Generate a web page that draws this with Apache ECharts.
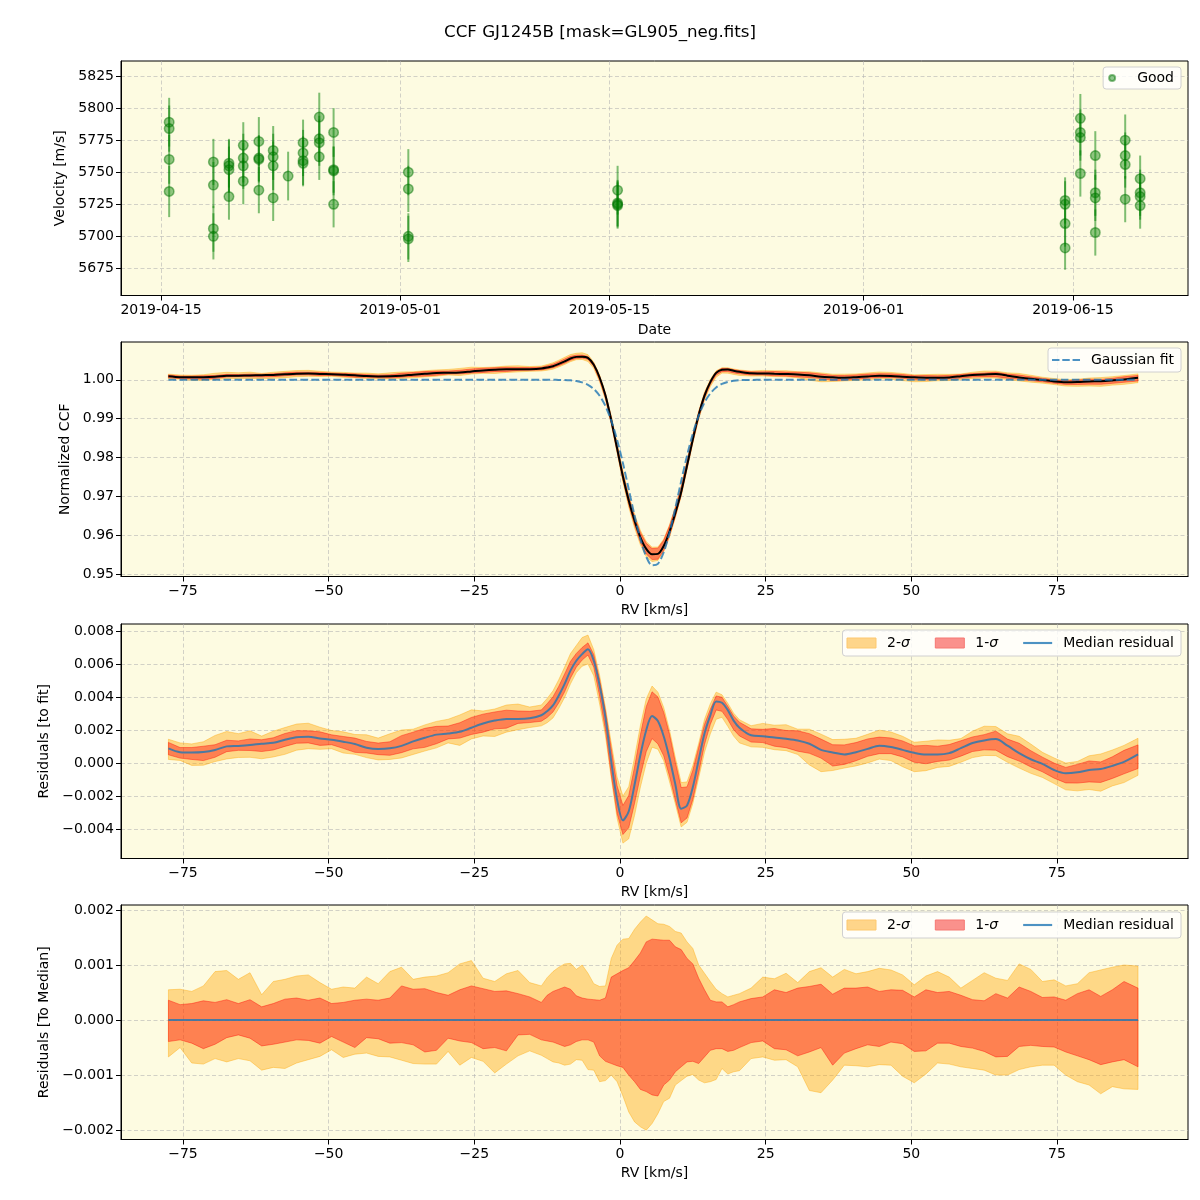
<!DOCTYPE html>
<html><head><meta charset="utf-8">
<script src="https://cdn.jsdelivr.net/npm/echarts@6/dist/echarts.min.js"></script>
<style>html,body{margin:0;padding:0;background:#fff}#c{width:1200px;height:1200px}</style>
</head><body><div id="c"></div>
<script>
// ---------- Panel 1: velocity time series ----------
const obsTimes = [
  '2019-04-15 13:00','2019-04-15 13:00','2019-04-15 13:00','2019-04-15 13:00',
  '2019-04-18 12:00','2019-04-18 12:00','2019-04-18 12:00','2019-04-18 12:00',
  '2019-04-19 13:00','2019-04-19 13:00','2019-04-19 13:00','2019-04-19 13:00',
  '2019-04-20 12:00','2019-04-20 12:00','2019-04-20 12:00','2019-04-20 12:00',
  '2019-04-21 13:00','2019-04-21 13:00','2019-04-21 13:00','2019-04-21 13:00',
  '2019-04-22 12:00','2019-04-22 12:00','2019-04-22 12:00','2019-04-22 12:00',
  '2019-04-23 12:00',
  '2019-04-24 12:00','2019-04-24 12:00','2019-04-24 12:00','2019-04-24 12:00',
  '2019-04-25 14:00','2019-04-25 14:00','2019-04-25 14:00','2019-04-25 14:00',
  '2019-04-26 13:00','2019-04-26 13:00','2019-04-26 13:00','2019-04-26 13:00',
  '2019-05-01 13:00','2019-05-01 13:00','2019-05-01 13:00','2019-05-01 13:00',
  '2019-05-15 13:00','2019-05-15 13:00','2019-05-15 13:00','2019-05-15 13:00',
  '2019-06-14 11:30','2019-06-14 11:30','2019-06-14 11:30','2019-06-14 11:30',
  '2019-06-15 12:00','2019-06-15 12:00','2019-06-15 12:00','2019-06-15 12:00',
  '2019-06-16 12:00','2019-06-16 12:00','2019-06-16 12:00','2019-06-16 12:00',
  '2019-06-18 12:00','2019-06-18 12:00','2019-06-18 12:00','2019-06-18 12:00',
  '2019-06-19 12:00','2019-06-19 12:00','2019-06-19 12:00','2019-06-19 12:00'
];
const obsVel = [
  5789,5784,5760,5735,
  5758,5740,5706,5700,
  5757,5755,5752,5731,
  5771,5761,5755,5743,
  5774,5761,5760,5736,
  5767,5762,5755,5730,
  5747,
  5773,5765,5759,5757,
  5793,5776,5773,5762,
  5781,5752,5751,5725,
  5750,5737,5700,5698,
  5736,5726,5725,5724,
  5728,5725,5710,5691,
  5792,5781,5777,5749,
  5763,5734,5730,5703,
  5775,5763,5756,5729,
  5745,5734,5731,5724
];
const obsErr = [
  19,18,19,20,
  18,18,18,18,
  19,20,18,18,
  18,19,18,18,
  19,18,18,18,
  19,18,19,18,
  19,
  18,18,19,18,
  19,18,18,18,
  19,18,19,18,
  18,18,18,18,
  19,18,18,18,
  18,18,18,17,
  19,18,18,18,
  19,18,18,18,
  20,18,18,18,
  18,18,18,18
];
const dateTicks = ['2019-04-15','2019-05-01','2019-05-15','2019-06-01','2019-06-15'];
const dateRange = ['2019-04-12 07:40','2019-06-22 16:50'];
const velTicks = [5675,5700,5725,5750,5775,5800,5825];

// ---------- Panels 2-4: CCF profiles ----------
const rv = [
  -77.5,-75.5,-73.5,-71.5,-69.5,-67.5,-65.5,-63.5,-61.5,-59.5,-57.5,-55.5,-53.5,-51.5,-49.5,-47.5,
  -45.5,-43.5,-41.5,-39.5,-37.5,-35.5,-33.5,-31.5,-29.5,-27.5,-25.5,-23.5,-21.5,-19.5,-17.5,-15.5,
  -13.5,-12.5,-11.5,-10.5,-9.5,-8.5,-7.5,-6.5,-5.5,-4.5,-3.5,-2.5,-1.5,-0.5,0.5,1.5,2.5,3.5,4.5,
  5.5,6.5,7.5,8.5,9.5,10.5,11.5,12.5,13.5,14.5,15.5,16.5,17.5,18.5,19.5,20.5,
  22.5,24.5,26.5,28.5,30.5,32.5,34.5,36.5,38.5,40.5,42.5,44.5,46.5,48.5,50.5,52.5,
  54.5,56.5,58.5,60.5,62.5,64.5,66.5,68.5,70.5,72.5,74.5,76.5,78.5,80.5,82.5,84.5,86.5,88.9
];
const gaussFit = [
  1.0,1.0,1.0,1.0,1.0,1.0,1.0,1.0,1.0,1.0,1.0,1.0,1.0,1.0,1.0,1.0,
  1.0,1.0,1.0,1.0,1.0,1.0,1.0,1.0,1.0,1.0,1.0,1.0,1.0,1.0,1.0,1.0,
  1.0,1.0,0.99999,0.99997,0.99994,0.99985,0.99968,0.99934,0.99871,0.99764,0.99589,0.99325,0.98951,0.98459,0.97860,0.97190,0.96512,0.95906,0.95459,
  0.95236,0.95276,0.95572,0.96075,0.96711,0.97395,0.98050,0.98619,0.99075,0.99415,0.99650,0.99802,0.99894,0.99946,0.99974,0.99989,
  0.99996,1.0,1.0,1.0,1.0,1.0,1.0,1.0,1.0,1.0,1.0,1.0,1.0,1.0,1.0,1.0,
  1.0,1.0,1.0,1.0,1.0,1.0,1.0,1.0,1.0,1.0,1.0,1.0,1.0,1.0,1.0,1.0,1.0,1.0
];
// residual of median CCF to the fit, units of 1e-3
const residMedian = [
  0.90,0.67,0.65,0.68,0.80,1.02,1.05,1.10,1.18,1.24,1.42,1.57,1.60,1.50,1.42,1.30,
  1.16,0.94,0.86,0.90,1.05,1.32,1.54,1.73,1.80,1.90,2.15,2.40,2.58,2.68,2.68,2.72,
  2.90,3.15,3.50,4.10,4.80,5.60,6.20,6.60,6.90,6.20,4.70,2.76,0.10,-2.20,-3.45,-2.90,-1.30,0.50,2.00,
  2.85,2.55,1.63,0.30,-1.28,-2.75,-2.55,-1.44,0.20,1.80,2.90,3.74,3.66,3.21,2.58,2.15,
  1.69,1.63,1.55,1.48,1.38,1.18,0.81,0.65,0.53,0.67,0.87,1.06,0.98,0.81,0.63,0.53,
  0.53,0.61,0.91,1.22,1.38,1.46,1.06,0.61,0.24,-0.04,-0.41,-0.61,-0.55,-0.41,-0.35,-0.16,0.08,0.53
];
// band offsets relative to the median, units of 1e-3
const up2 = [
  0.55,0.56,0.52,0.62,0.88,0.90,0.74,0.86,0.46,0.70,0.74,0.80,0.82,0.68,0.56,0.60,
  0.58,0.78,0.66,0.88,0.96,0.74,0.78,0.80,0.86,1.02,1.08,0.76,0.70,0.84,0.90,0.68,
  0.62,0.77,0.88,0.96,1.02,1.03,0.92,1.00,0.85,0.66,0.61,0.62,1.12,1.36,1.47,1.48,1.65,1.78,1.89,
  1.82,1.75,1.74,1.70,1.61,1.58,1.42,1.30,1.00,0.85,0.70,0.56,0.48,0.42,0.45,0.48,
  0.58,0.78,0.75,0.85,0.68,0.88,0.95,0.78,0.92,0.84,0.88,0.94,0.91,0.82,0.64,0.80,
  0.88,0.78,0.58,0.72,0.86,0.76,0.72,1.02,0.92,0.70,0.73,0.62,0.66,0.86,0.91,0.96,1.00,0.98
];
const up1 = [
  0.36,0.28,0.30,0.35,0.32,0.37,0.30,0.37,0.24,0.30,0.38,0.40,0.36,0.40,0.30,0.32,
  0.36,0.38,0.36,0.40,0.62,0.56,0.57,0.50,0.45,0.55,0.62,0.57,0.52,0.53,0.48,0.42,
  0.32,0.45,0.52,0.56,0.60,0.56,0.44,0.40,0.38,0.37,0.36,0.40,0.78,0.84,0.90,0.95,1.08,1.22,1.42,
  1.47,1.46,1.45,1.45,1.33,1.28,1.12,1.02,0.76,0.55,0.36,0.33,0.33,0.24,0.28,0.33,
  0.39,0.42,0.55,0.50,0.58,0.61,0.65,0.47,0.58,0.58,0.60,0.52,0.55,0.54,0.42,0.55,
  0.50,0.52,0.45,0.37,0.35,0.48,0.40,0.60,0.52,0.41,0.42,0.36,0.48,0.55,0.43,0.55,0.70,0.58
];
const dn1 = [
  -0.39,-0.36,-0.42,-0.52,-0.44,-0.32,-0.27,-0.33,-0.47,-0.44,-0.40,-0.36,-0.37,-0.42,-0.30,-0.40,
  -0.50,-0.32,-0.34,-0.42,-0.41,-0.45,-0.58,-0.55,-0.33,-0.38,-0.41,-0.52,-0.50,-0.56,-0.27,-0.26,
  -0.36,-0.38,-0.40,-0.44,-0.48,-0.45,-0.39,-0.36,-0.36,-0.40,-0.65,-0.75,-0.79,-0.83,-0.86,-1.00,-1.12,-1.26,-1.30,
  -1.36,-1.38,-1.18,-1.09,-0.94,-0.85,-0.76,-0.75,-0.79,-0.67,-0.55,-0.52,-0.52,-0.57,-0.55,-0.50,
  -0.41,-0.38,-0.52,-0.54,-0.65,-0.58,-0.50,-0.82,-0.60,-0.52,-0.45,-0.48,-0.40,-0.43,-0.57,-0.56,
  -0.42,-0.42,-0.48,-0.51,-0.57,-0.67,-0.66,-0.48,-0.46,-0.48,-0.49,-0.58,-0.65,-0.72,-0.81,-0.76,-0.72,-0.85
];
const dn2 = [
  -0.67,-0.50,-0.78,-0.80,-0.70,-0.76,-0.70,-0.74,-0.91,-0.86,-0.88,-0.78,-0.72,-0.66,-0.54,-0.68,
  -0.62,-0.60,-0.66,-0.67,-0.73,-0.79,-0.80,-0.80,-0.57,-0.82,-0.68,-0.75,-0.96,-0.80,-0.65,-0.56,
  -0.64,-0.70,-0.76,-0.78,-0.82,-0.80,-0.72,-0.73,-0.90,-0.91,-1.12,-1.10,-1.00,-1.12,-1.38,-1.67,-1.85,-1.94,-2.00,
  -1.88,-1.70,-1.48,-1.42,-1.18,-1.10,-1.02,-0.99,-1.09,-1.14,-1.12,-1.08,-0.88,-0.98,-0.94,-0.92,
  -0.70,-0.67,-0.73,-0.72,-0.85,-1.28,-1.32,-1.09,-0.82,-0.83,-0.85,-0.81,-0.82,-1.02,-1.14,-0.98,
  -0.78,-0.80,-0.85,-0.88,-0.91,-1.00,-1.00,-0.90,-0.85,-0.82,-0.82,-1.00,-1.12,-1.18,-1.34,-1.21,-1.25,-1.26
];
const rvTicks = [-75,-50,-25,0,25,50,75];
const ccfTicks = [0.95,0.96,0.97,0.98,0.99,1.00];
const resTicks = [-0.004,-0.002,0,0.002,0.004,0.006,0.008];
const medTicks = [-0.002,-0.001,0,0.001,0.002];

// ---------- build ----------
const K = 1e-3;
const ts = s => +echarts.time.parse(s);
const ccfMedian = rv.map((x, i) => gaussFit[i] + residMedian[i] * K);
const resMed = residMedian.map(v => v * K);
const medToMed = resMed.map(v => v - v);

const FONT = 'DejaVu Sans';
const BG = '#fdfbe1';
const ORANGE = 'rgba(255,165,0,0.4)';
const RED = 'rgba(255,0,0,0.4)';
const BLUE = 'rgba(31,119,180,0.8)';
const GRIDLINE = {show: true, lineStyle: {color: 'rgba(176,176,176,0.7)', type: [4, 2.5], width: 0.8}};
const minus = s => s.replace('-', '\u2212');

const tops = [61, 342, 624, 905];
const grids = tops.map(t => ({left: 121, width: 1067, top: t, height: 234.5,
  show: true, backgroundColor: BG, borderColor: '#000', borderWidth: 1}));

function yAxis(gi, min, max, ticks, fmt, name, gap) {
  return {type: 'value', gridIndex: gi, min, max,
    axisLine: {show: true, onZero: false, lineStyle: {color: '#000', width: 1}},
    axisTick: {show: true, customValues: ticks, length: 5, lineStyle: {color: '#000'}},
    axisLabel: {customValues: ticks, formatter: fmt, color: '#000', fontFamily: FONT, fontSize: 14, margin: 7},
    splitLine: GRIDLINE,
    name, nameLocation: 'middle', nameGap: gap, nameRotate: 90,
    nameTextStyle: {color: '#000', fontFamily: FONT, fontSize: 14}};
}
function rvAxis(gi) {
  return {type: 'value', gridIndex: gi, min: -85.64, max: 97.48,
    axisLine: {show: true, onZero: false, lineStyle: {color: '#000', width: 1}},
    axisTick: {show: true, customValues: rvTicks, length: 5, lineStyle: {color: '#000'}},
    axisLabel: {customValues: rvTicks, formatter: v => minus(String(v)), color: '#000', fontFamily: FONT, fontSize: 14, margin: 8},
    splitLine: GRIDLINE,
    name: 'RV [km/s]', nameLocation: 'middle', nameGap: 27,
    nameTextStyle: {color: '#000', fontFamily: FONT, fontSize: 14}};
}
// filled band between center+lo and center+hi, drawn as one polygon through the axis scales
function band(ai, center, lo, hi, color, name) {
  const loV = rv.map((x, i) => center[i] + lo[i] * K);
  const hiV = rv.map((x, i) => center[i] + hi[i] * K);
  return {
    type: 'custom', name, xAxisIndex: ai, yAxisIndex: ai, silent: true, z: 2,
    itemStyle: {color},
    data: rv.map((x, i) => [x, loV[i], hiV[i]]),
    encode: {x: 0, y: [1, 2]},
    renderItem: (params, api) => {
      if (params.dataIndex !== 0) return null;
      const pts = [];
      for (let i = 0; i < rv.length; i++) pts.push(api.coord([rv[i], hiV[i]]));
      for (let i = rv.length - 1; i >= 0; i--) pts.push(api.coord([rv[i], loV[i]]));
      return {type: 'polygon', shape: {points: pts},
        style: {fill: color, stroke: color, lineWidth: 1}};
    }
  };
}
const pairs = ys => rv.map((x, i) => [x, ys[i]]);
const fmt3 = v => (v < 0 ? '\u2212' : '') + Math.abs(v).toFixed(3);
const LINE_ICON = 'path://M0,0h30v2.2h-30z';
const DASH_ICON = 'path://M0,0h8v2.2h-8zM11,0h8v2.2h-8zM22,0h8v2.2h-8z';

const legendBox = {backgroundColor: 'rgba(255,255,255,0.8)', borderColor: '#d0d0d0', borderWidth: 1,
  borderRadius: 3, orient: 'horizontal', right: 19,
  textStyle: {color: '#000', fontFamily: FONT, fontSize: 14, padding: [0, 0, 0, 6],
    rich: {i: {fontStyle: 'italic', fontFamily: FONT, fontSize: 14, color: '#000'}}}};
const sigmaLegend = top => Object.assign({}, legendBox, {
  top, padding: [6, 7, 6, 4], itemWidth: 29, itemHeight: 10, itemGap: 25,
  formatter: n => n.replace('σ', '{i|σ}'),
  data: [
    {name: '2-σ', icon: 'rect', itemStyle: {color: 'rgba(254,213,138,1)', borderColor: 'rgba(253,200,110,1)', borderWidth: 1}},
    {name: '1-σ', icon: 'rect', itemStyle: {color: 'rgba(250,145,140,1)', borderColor: 'rgba(245,120,115,1)', borderWidth: 1}},
    {name: 'Median residual', icon: LINE_ICON, itemStyle: {color: '#4c92c3'}}
  ]});

const option = {
  animation: false,
  backgroundColor: '#fff',
  textStyle: {fontFamily: FONT},
  title: {text: 'CCF GJ1245B [mask=GL905_neg.fits]', left: 'center', top: 24, padding: 0,
    textStyle: {fontFamily: FONT, fontSize: 16.7, fontWeight: 'normal', color: '#000'}},
  grid: grids,
  legend: [
    Object.assign({}, legendBox, {top: 67, padding: [4, 7, 4, 5], itemWidth: 28, itemHeight: 6,
      data: [{name: 'Good', icon: 'circle'}]}),
    Object.assign({}, legendBox, {top: 348, padding: [5, 7, 5, 4], itemWidth: 28, itemHeight: 14,
      data: [{name: 'Gaussian fit', icon: DASH_ICON, itemStyle: {color: '#4c92c3'}}]}),
    sigmaLegend(630),
    sigmaLegend(912)
  ],
  xAxis: [
    {type: 'value', gridIndex: 0, min: ts(dateRange[0]), max: ts(dateRange[1]),
     axisLine: {show: true, onZero: false, lineStyle: {color: '#000', width: 1}},
     axisTick: {show: true, customValues: dateTicks.map(ts), length: 5, lineStyle: {color: '#000'}},
     axisLabel: {customValues: dateTicks.map(ts), formatter: v => echarts.time.format(v, '{yyyy}-{MM}-{dd}', false),
       color: '#000', fontFamily: FONT, fontSize: 14, margin: 8},
     splitLine: GRIDLINE,
     name: 'Date', nameLocation: 'middle', nameGap: 28,
     nameTextStyle: {color: '#000', fontFamily: FONT, fontSize: 14}},
    rvAxis(1), rvAxis(2), rvAxis(3)
  ],
  yAxis: [
    yAxis(0, 5653.9, 5836.7, velTicks, v => String(v), 'Velocity [m/s]', 52),
    yAxis(1, 0.9495, 1.0097, ccfTicks, v => v.toFixed(2), 'Normalized CCF', 48),
    yAxis(2, -0.00576, 0.00842, resTicks, fmt3, 'Residuals [to fit]', 68),
    yAxis(3, -0.00217, 0.00209, medTicks, fmt3, 'Residuals [To Median]', 68)
  ],
  series: [
    {type: 'custom', xAxisIndex: 0, yAxisIndex: 0, silent: true, z: 2,
     data: obsTimes.map((t, i) => [ts(t), obsVel[i] - obsErr[i], obsVel[i] + obsErr[i]]),
     encode: {x: 0, y: [1, 2]},
     renderItem: (params, api) => {
       const a = api.coord([api.value(0), api.value(1)]);
       const b = api.coord([api.value(0), api.value(2)]);
       return {type: 'line', shape: {x1: a[0], y1: a[1], x2: b[0], y2: b[1]},
         style: {stroke: 'rgba(0,128,0,0.5)', lineWidth: 2}};
     }},
    {type: 'scatter', name: 'Good', xAxisIndex: 0, yAxisIndex: 0, symbolSize: 9.5, z: 3,
     itemStyle: {color: 'rgba(0,128,0,0.55)', borderColor: 'rgba(0,115,0,0.6)', borderWidth: 1.5},
     data: obsTimes.map((t, i) => [ts(t), obsVel[i]])},

    band(1, ccfMedian, dn2, up2, ORANGE, '2-σ'),
    band(1, ccfMedian, dn1, up1, RED, '1-σ'),
    {type: 'line', xAxisIndex: 1, yAxisIndex: 1, symbol: 'none', silent: true, z: 3, smooth: 0.3,
     lineStyle: {color: '#000', width: 2}, data: pairs(ccfMedian)},
    {type: 'line', name: 'Gaussian fit', xAxisIndex: 1, yAxisIndex: 1, symbol: 'none', silent: true, z: 4, smooth: 0.3,
     lineStyle: {color: BLUE, width: 2, type: [7.7, 3.3]}, itemStyle: {color: BLUE}, data: pairs(gaussFit)},

    band(2, resMed, dn2, up2, ORANGE, '2-σ'),
    band(2, resMed, dn1, up1, RED, '1-σ'),
    {type: 'line', name: 'Median residual', xAxisIndex: 2, yAxisIndex: 2, symbol: 'none', silent: true, z: 3, smooth: 0.3,
     lineStyle: {color: BLUE, width: 2}, itemStyle: {color: BLUE}, data: pairs(resMed)},

    band(3, medToMed, dn2, up2, ORANGE, '2-σ'),
    band(3, medToMed, dn1, up1, RED, '1-σ'),
    {type: 'line', name: 'Median residual', xAxisIndex: 3, yAxisIndex: 3, symbol: 'none', silent: true, z: 3,
     lineStyle: {color: BLUE, width: 2}, itemStyle: {color: BLUE}, data: pairs(medToMed)}
  ]
};
const chart = echarts.init(document.getElementById('c'), null, {renderer: 'canvas'});
chart.setOption(option);
</script></body></html>
